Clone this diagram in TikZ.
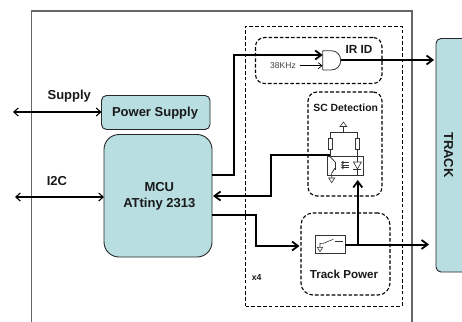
\documentclass[tikz,border=0pt]{standalone}
\usepackage{fontspec}
\setmainfont{Liberation Sans}
\usetikzlibrary{arrows.meta}
\definecolor{tealbg}{RGB}{184,222,225}
\tikzset{x=1pt,y=-1pt,
 block/.style={draw=black!85,line width=0.9pt,fill=tealbg,rounded corners=#1,inner sep=0pt},
 block/.default=5pt,
 dash box/.style={draw=black,line width=1.1pt,dash pattern=on 3.6pt off 2pt,rounded corners=#1,inner sep=0pt},
 dash box/.default=9pt,
 thick wire/.style={draw=black,line width=2pt,-{Straight Barb[length=6pt,width=9pt,line width=1.8pt]}},
 two way/.style={draw=black,line width=1.1pt,{Straight Barb[length=4.5pt,width=8pt]}-{Straight Barb[length=4.5pt,width=8pt]}},
 thin part/.style={draw=black!80,line width=0.6pt},
 lbl/.style={font=\bfseries\fontsize{13}{16}\selectfont,text=black!90,align=center,inner sep=0pt},
}
\begin{document}
\begin{tikzpicture}
\useasboundingbox (0,0) rectangle (462,321);
\begin{scope}
\clip (0,0) rectangle (462,321);
\draw[draw=black!60,line width=1.2pt] (31.3,325)--(31.3,11)--(412,11)--(412,325);
\node[draw=black,line width=0.6pt,dash pattern=on 3.6pt off 2.2pt,minimum width=156.5pt,minimum height=280pt,inner sep=0pt] (group) at (323.75,166) {};
\node[block=5pt,minimum width=50pt,minimum height=233.5pt] (trackbox) at (461,155.25) {};
\end{scope}
\node[lbl,rotate=-90] (track) at (448.5,155) {TRACK};
% blocks
\node[block=5pt,minimum width=108.5pt,minimum height=34pt] (ps) at (155.75,112.5) {};
\node[lbl] (pslabel) at (155,113.5) {Power Supply};
\node[block=15pt,minimum width=108pt,minimum height=122.5pt] (mcu) at (158,195.75) {};
\node[lbl] (mculabel) at (159.3,196) {MCU\\ATtiny 2313};
\coordinate (sup) at (13,112);
\coordinate (i2c) at (15,197);
\coordinate (psw) at (101.5,112);
\coordinate (mcuw) at (104,197);
\draw[two way] (sup)--(psw);
\draw[two way] (i2c)--(mcuw);
\node[lbl] (supply) at (69.3,96.5) {Supply};
\node[lbl] (i2clabel) at (57,180.7) {I2C};
% dashed groups
\node[dash box=9pt,minimum width=126.5pt,minimum height=46pt] (irbox) at (318.75,60.5) {};
\node[dash box=9pt,minimum width=74pt,minimum height=104pt] (scbox) at (345,144) {};
\node[dash box=12pt,minimum width=89pt,minimum height=82pt] (tpbox) at (345.5,254) {};
\node[lbl,font=\bfseries\fontsize{11.8}{14}\selectfont] (irlabel) at (359,49) {IR ID};
\node[lbl,font=\bfseries\fontsize{10.4}{12}\selectfont] (sclabel) at (345.7,107.3) {SC Detection};
\node[lbl,font=\bfseries\fontsize{11.6}{14}\selectfont] (tplabel) at (344,274) {Track Power};
\node[lbl,font=\bfseries\fontsize{8.7}{10}\selectfont] (x4) at (256.7,277.7) {x4};
% AND gate
\draw[thin part,line width=0.8pt] (322.7,50.7)--(331,50.7) .. controls (337,50.7) and (340.7,55) .. (340.7,60.4) .. controls (340.7,65.8) and (337,70) .. (331,70)--(322.7,70)--cycle;
\coordinate (andA) at (322.7,55);
\coordinate (andB) at (322.7,65.7);
\coordinate (andO) at (340.7,60);
\coordinate (trackA) at (434,60);
\node[font=\fontsize{8.5}{10}\selectfont,text=black!75,inner sep=0pt] (khz) at (283,66) {38KHz};
\draw[draw=black,line width=0.7pt,-{Straight Barb[length=4pt,width=6pt]}] (300,65.7)--(andB);
\coordinate (mcuA) at (212,175);
\coordinate (mcuB) at (213,196);
\coordinate (mcuC) at (212,215);
\draw[thick wire] (mcuA)--(234,175)--(234,55)--(andA);
\draw[thick wire] (andO)--(trackA);
% SC part
\node[thin part,minimum width=36.7pt,minimum height=19pt,inner sep=0pt] (opto) at (345.35,165.8) {};
\draw[thin part] (343.4,132.5)--(343.4,126.5);
\draw[thin part,fill=white] (340,126.5)--(346.8,126.5)--(343.4,122)--cycle;
\draw[thin part] (330,156.3)--(330,132.5)--(357.4,132.5)--(357.4,175.3);
\node[thin part,fill=white,minimum width=4pt,minimum height=11pt,inner sep=0pt] (r1) at (330,143.3) {};
\node[thin part,fill=white,minimum width=4pt,minimum height=11pt,inner sep=0pt] (r2) at (357.4,143.3) {};
% transistor
\draw[thin part,line width=0.8pt] (330,156.5)--(335,162);
\draw[thin part,line width=0.8pt] (335,161.5)--(335,170);
\draw[thin part,line width=0.8pt] (335,168)--(331.7,173.3)--(331.7,178);
\draw[thin part,fill=white] (328.7,178)--(334.7,178)--(331.7,182.7)--cycle;
% light arrows
\foreach \yy in {162.5,165,167.5}
  \draw[thin part,-{Straight Barb[length=2pt,width=3pt]}] (349,\yy)--(341,\yy);
% diode
\draw[thin part,fill=white] (353.4,162)--(361.4,162)--(357.4,169)--cycle;
\draw[thin part] (353.4,169)--(361.4,169);
% switch
\node[thin part,minimum width=29.3pt,minimum height=17.6pt,inner sep=0pt] (sw) at (330.35,244.5) {};
\draw[thin part] (320,247.3)--(320,243.3)--(323.3,243.3)--(333.3,239.3);
\draw[thin part,line width=0.8pt] (335,241.7)--(343.3,241.7);
\draw[thin part,fill=white] (317.3,247.3)--(322.7,247.3)--(320,251.7)--cycle;
% thick wires
\coordinate (junction) at (357.8,244.5);
\coordinate (diodeIn) at (357.8,180);
\coordinate (trackB) at (429,244.5);
\draw[thick wire] (330,155)--(270.7,155)--(270.7,196)--(mcuB);
\draw[thick wire] (mcuC)--(255.7,215)--(255.7,246)--(299.5,246);
\draw[thick wire] (sw.east)--(trackB);
\draw[thick wire] (junction)--(diodeIn);
\end{tikzpicture}
\end{document}
